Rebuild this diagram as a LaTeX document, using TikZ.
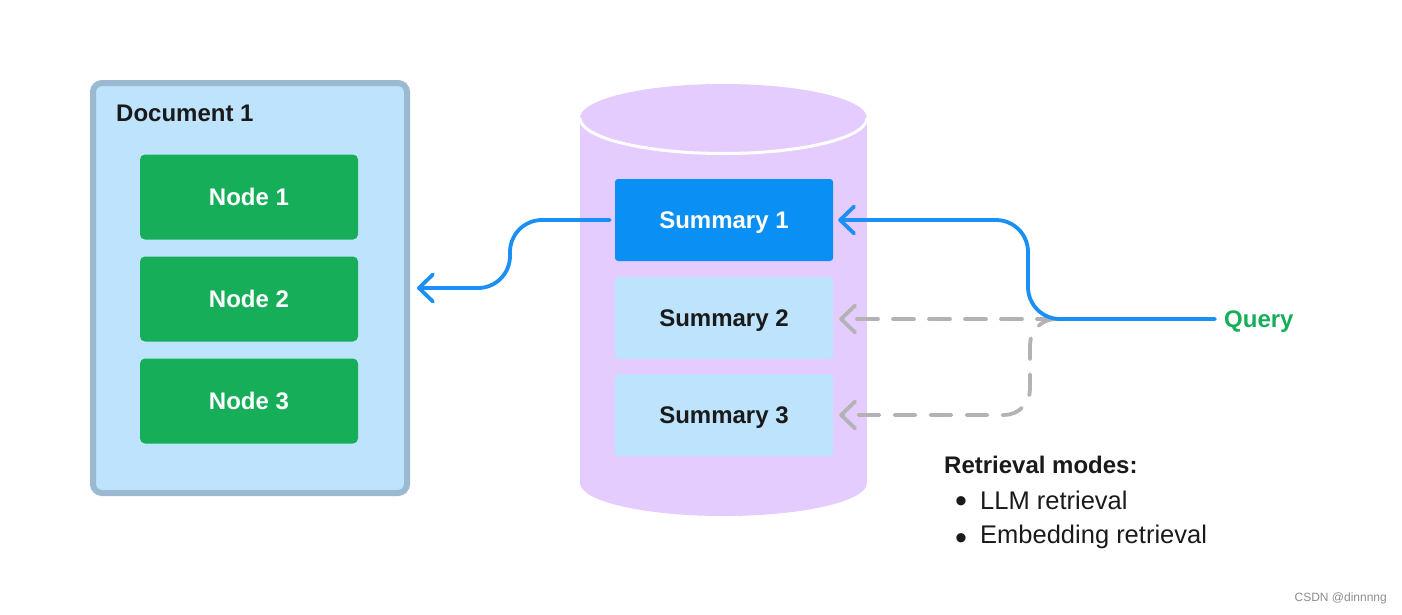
\documentclass[tikz,border=0pt]{standalone}
\usepackage{fontspec}
\setmainfont{Liberation Sans}
\usetikzlibrary{arrows.meta}
\definecolor{docfill}{HTML}{BEE3FC}
\definecolor{docborder}{HTML}{9CB9D2}
\definecolor{nodegreen}{HTML}{17AE5A}
\definecolor{sumblue}{HTML}{0A8FF5}
\definecolor{arrowblue}{HTML}{1A8FF5}
\definecolor{cylfill}{HTML}{E5CCFE}
\definecolor{dashgray}{HTML}{B3B3B3}
\definecolor{darktext}{HTML}{1A1A1A}
\tikzset{
  greenbox/.style={rectangle, rounded corners=5pt, fill=nodegreen, text=white, font=\fontsize{24}{28}\selectfont\bfseries, minimum width=218pt, minimum height=85pt, inner sep=0pt, text depth=0pt},
  sumbox/.style={rectangle, rounded corners=3pt, minimum width=218pt, minimum height=82pt, inner sep=0pt, text depth=0pt, font=\fontsize{24}{28}\selectfont\bfseries},
  listtext/.style={anchor=west, text=darktext, font=\fontsize{25.5}{30}\selectfont, inner sep=0pt},
  bullettext/.style={text=darktext, font=\fontsize{34}{38}\selectfont, inner sep=0pt, text depth=0pt},
  chev/.style={-{Straight Barb[length=14pt,width=27pt,round]}},
  bluearrow/.style={chev, draw=arrowblue, line width=3.8pt, line cap=round, rounded corners=32pt},
  grayarrow/.style={chev, draw=dashgray, line width=3.8pt, line cap=round, dash pattern=on 21pt off 15pt, rounded corners=26pt},
}
\begin{document}
\begin{tikzpicture}[x=1pt,y=-1pt]
\useasboundingbox (0,0) rectangle (1402,614);
% document box
\node[rectangle, rounded corners=9pt, fill=docfill, draw=docborder, line width=6pt, minimum width=314pt, minimum height=410pt, inner sep=0pt] (doc) at (250,288) {};
\node[anchor=west, text=darktext, font=\fontsize{24}{28}\selectfont\bfseries, inner sep=0pt] (doctitle) at (116,113) {Document 1};
\node[greenbox] (n1) at (249,197) {Node 1};
\node[greenbox] (n2) at (249,299) {Node 2};
\node[greenbox] (n3) at (249,401) {Node 3};
% cylinder
\fill[cylfill] (580,118) rectangle (867,483);
\fill[cylfill] (723.5,483) ellipse [x radius=143.5, y radius=33];
\fill[cylfill] (723.5,118) ellipse [x radius=143.5, y radius=34];
\draw[white, line width=3pt] (867,118) arc [start angle=0, end angle=180, x radius=143.5, y radius=35.5];
% summaries
\node[sumbox, fill=sumblue, text=white] (s1) at (724,220) {Summary 1};
\node[sumbox, fill=docfill, text=darktext] (s2) at (724,318) {Summary 2};
\node[sumbox, fill=docfill, text=darktext] (s3) at (724,415) {Summary 3};
% query
\node[anchor=west, text=nodegreen, font=\fontsize{24}{28}\selectfont\bfseries, inner sep=0pt] (query) at (1224,322) {Query};
\coordinate (jq) at (1058,319);
% arrows
\draw[grayarrow] (jq) -- ([xshift=6pt]s2.east |- jq);
\draw[grayarrow] (jq) -- (1030,319) -- (1030,415) -- ([xshift=6pt]s3.east);
\draw[bluearrow] ([xshift=-9pt]query.west |- jq) -- (1028,319) -- (1028,220) -- ([xshift=5pt]s1.east);
\draw[bluearrow] ([xshift=-5pt]s1.west) -- (510,220) -- (510,288) -- ([xshift=7pt]doc.east |- 0,288);
% retrieval modes
\node[anchor=west, text=darktext, font=\fontsize{24}{28}\selectfont\bfseries, inner sep=0pt] (rm) at (944,465) {Retrieval modes:};
\node[bullettext] (b1) at (961,505) {•};
\node[listtext] (m1) at (980,500) {LLM retrieval};
\node[bullettext] (b2) at (961,542) {•};
\node[listtext] (m2) at (980,537) {Embedding retrieval};
% watermark
\node[anchor=east, text=black!45, font=\fontsize{12}{14}\selectfont, inner sep=0pt] (wm) at (1387,598) {CSDN @dinnnng};
\end{tikzpicture}
\end{document}
